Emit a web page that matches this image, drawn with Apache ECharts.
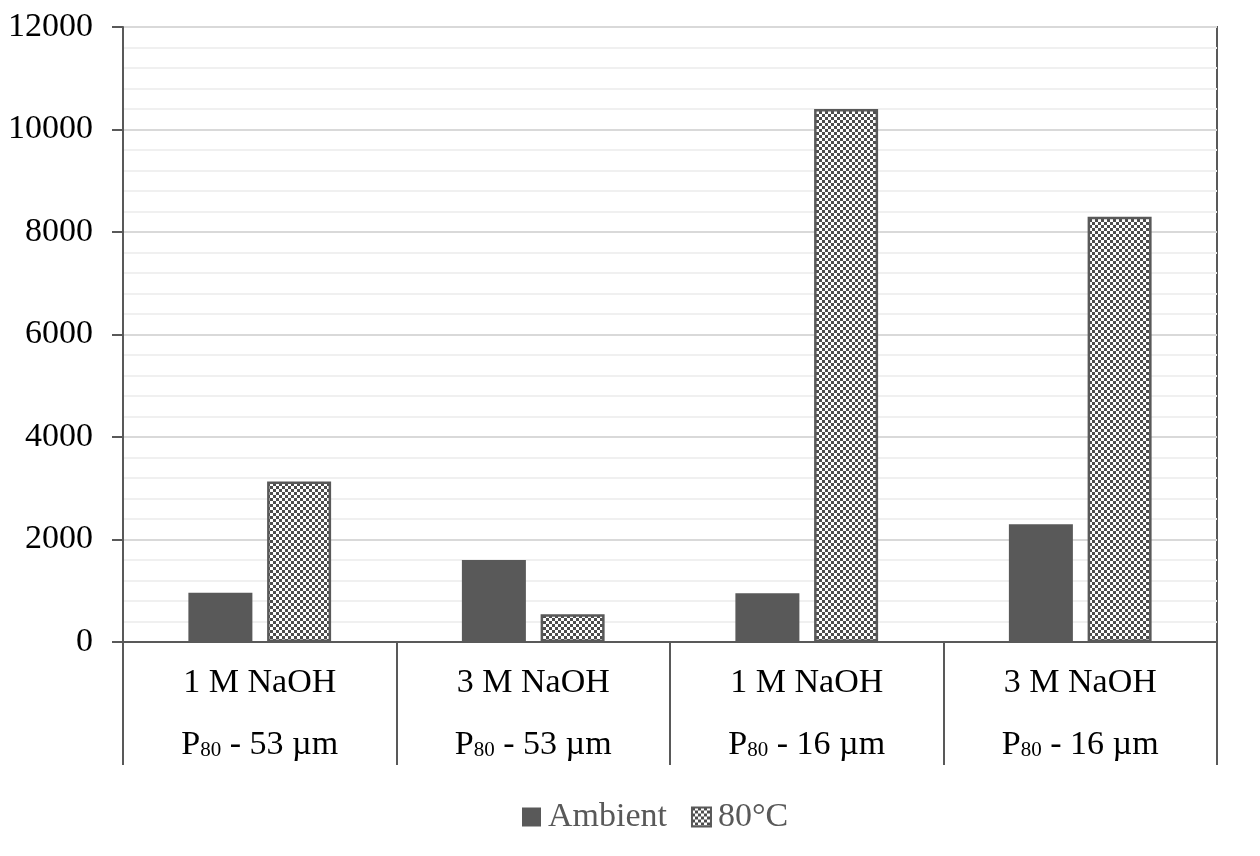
<!DOCTYPE html>
<html>
<head>
<meta charset="utf-8">
<script src="https://cdn.jsdelivr.net/npm/echarts@6/dist/echarts.min.js"></script>
<style>html,body{margin:0;padding:0;background:#fff}#c{width:1260px;height:856px}</style>
</head>
<body>
<div id="c"></div>
<script>
var concentrations = ['1 M NaOH', '3 M NaOH', '1 M NaOH', '3 M NaOH'];
var sizes = ['53 µm', '53 µm', '16 µm', '16 µm'];
var seriesNames = ['Ambient', '80°C'];
var ambient = [960, 1600, 950, 2300];
var hot = [3130, 540, 10400, 8300];
var yMin = 0, yMax = 12000, yStep = 2000;

var categories = concentrations.map(function (c, i) { return c + '|' + sizes[i]; });

var pc = document.createElement('canvas');
pc.width = 6; pc.height = 6;
var ctx = pc.getContext('2d');
ctx.fillStyle = '#ffffff'; ctx.fillRect(0, 0, 6, 6);
ctx.fillStyle = '#4d4d4d';
ctx.fillRect(0, 0, 3, 3); ctx.fillRect(3, 3, 3, 3);

var font = '"Liberation Serif", "Times New Roman", serif';
var chart = echarts.init(document.getElementById('c'));
chart.setOption({
  animation: false,
  backgroundColor: '#ffffff',
  grid: { left: 123, right: 43, top: 27, bottom: 214, outerBoundsMode: 'none', containLabel: false, show: true, borderColor: '#595959', borderWidth: 2, backgroundColor: 'transparent' },
  legend: {
    bottom: 17, left: 517, itemWidth: 19, itemHeight: 19, itemGap: 24,
    icon: 'rect',
    textStyle: { fontFamily: font, fontSize: 34, color: '#595959', padding: [0, 0, 0, 2] },
    data: seriesNames
  },
  xAxis: {
    type: 'category',
    data: categories,
    axisLine: { lineStyle: { color: '#595959', width: 2 } },
    axisTick: { show: true, length: 123, alignWithLabel: false, lineStyle: { color: '#595959', width: 2 } },
    axisLabel: {
      margin: 10,
      interval: 0,
      formatter: function (v) {
        var p = v.split('|');
        return '{a|' + p[0] + '}\n{p|P}{s|80}{p| - ' + p[1] + '}';
      },
      rich: {
        a: { fontFamily: font, fontSize: 34, color: '#000', lineHeight: 62, verticalAlign: 'middle' },
        p: { fontFamily: font, fontSize: 34, color: '#000', lineHeight: 62, verticalAlign: 'middle' },
        s: { fontFamily: font, fontSize: 21, color: '#000', lineHeight: 52, padding: [10, 0, 0, 0], verticalAlign: 'middle' }
      }
    }
  },
  yAxis: {
    type: 'value', min: yMin, max: yMax, interval: yStep,
    axisLine: { show: true, lineStyle: { color: '#595959', width: 2 } },
    axisTick: { show: true, length: 11, lineStyle: { color: '#595959', width: 2 } },
    axisLabel: { fontFamily: font, fontSize: 34, color: '#000', margin: 30, formatter: function (v) { return String(v); } },
    splitLine: { show: true, lineStyle: { color: '#d9d9d9', width: 2 } },
    minorTick: { show: false, splitNumber: 5 },
    minorSplitLine: { show: true, lineStyle: { color: '#f0f0f0', width: 2 } }
  },
  series: [
    {
      name: seriesNames[0], type: 'bar', data: ambient, barWidth: 64, barGap: '23%',
      itemStyle: { color: '#595959' }
    },
    {
      name: seriesNames[1], type: 'bar', data: hot, barWidth: 64,
      itemStyle: { color: { image: pc, repeat: 'repeat' }, borderColor: '#595959', borderWidth: 2.5 }
    }
  ]
});
</script>
</body>
</html>
